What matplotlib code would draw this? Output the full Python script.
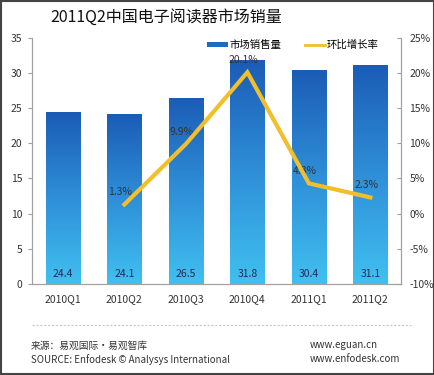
import numpy as np
import matplotlib.pyplot as plt
from matplotlib.colors import LinearSegmentedColormap
from matplotlib.lines import Line2D
from matplotlib.patches import Patch

plt.rcParams['font.family'] = ['Noto Sans CJK SC', 'DejaVu Sans']

quarters = ['2010Q1', '2010Q2', '2010Q3', '2010Q4', '2011Q1', '2011Q2']
sales = [24.4, 24.1, 26.5, 31.8, 30.4, 31.1]
growth_x = ['2010Q2', '2010Q3', '2010Q4', '2011Q1', '2011Q2']
growth = [1.3, 9.9, 20.1, 4.3, 2.3]

axis_gray = '#a0a0a0'
text_col = '#333333'
line_col = '#f2bf2a'
grad = LinearSegmentedColormap.from_list('bar', ['#40c0f0', '#2f8fd8', '#1b5cb6'])

fig = plt.figure(figsize=(4.35, 3.75), dpi=100)
ax = fig.add_axes([0.074, 0.243, 0.848, 0.656])
ax2 = ax.twinx()

x = np.arange(len(quarters))
bars = ax.bar(x, sales, width=0.56, color='none', edgecolor='none')
# 渐变填充
for b in bars:
    bx, by = b.get_x(), b.get_y()
    w, h = b.get_width(), b.get_height()
    img = ax.imshow(np.linspace(0, 1, 256).reshape(-1, 1), cmap=grad, origin='lower',
                    extent=[bx, bx + w, by, by + h], aspect='auto', zorder=2)
    img.set_clip_path(b)
ax.set_xlim(-0.5, 5.5)
ax.set_ylim(0, 35)

for xi, v in zip(x, sales):
    ax.text(xi, 1.4, f'{v}', ha='center', va='center', fontsize=7.5, color='#1c2e55', zorder=3)

gx = [quarters.index(q) for q in growth_x]
ax2.plot(gx, growth, color=line_col, lw=3, solid_joinstyle='miter', zorder=5)
ax2.set_ylim(-10, 25)
for xi, v in zip(gx, growth):
    ax2.annotate(f'{v}%', (xi, v), xytext=(-3, 9), textcoords='offset points',
                 ha='center', va='center', fontsize=7.5, color=text_col)

ax.set_yticks(range(0, 36, 5))
ax2.set_yticks(range(-10, 26, 5))
ax2.set_yticklabels([f'{t}%' for t in range(-10, 26, 5)])
ax.set_xticks(x)
ax.set_xticklabels(quarters)

for a in (ax, ax2):
    for s in a.spines.values():
        s.set_color(axis_gray)
    a.spines['top'].set_visible(False)
    a.tick_params(labelsize=7.5, colors=text_col, length=3, width=0.8)
    a.tick_params(axis='y', color=axis_gray)
ax.tick_params(axis='x', length=0, pad=7)
ax2.tick_params(axis='y', direction='in', pad=6)
ax.tick_params(axis='y', pad=4)

handles = [Patch(facecolor='#1e6cc2', edgecolor='none'),
           Line2D([0], [0], color=line_col, lw=2)]
leg = ax.legend(handles, ['市场销售量', '环比增长率'], loc='upper right', ncol=2,
                bbox_to_anchor=(0.965, 1.03), frameon=False, fontsize=7.5,
                handlelength=2.0, handleheight=0.5, columnspacing=2.2, handletextpad=0.15)

fig.text(0.115, 0.955, '2011Q2中国电子阅读器市场销量', fontsize=11.5, color='#111111', va='center')

fig.add_artist(Line2D([0.074, 0.945], [0.133, 0.133], color='#c8c8c8', lw=0.8, ls=(0, (2, 1.5))))
fig.text(0.071, 0.079, '来源：易观国际·易观智库', fontsize=7, color=text_col, va='center')
fig.text(0.071, 0.042, 'SOURCE: Enfodesk © Analysys International', fontsize=7, color=text_col, va='center')
fig.text(0.713, 0.079, 'www.eguan.cn', fontsize=7, color=text_col, va='center')
fig.text(0.713, 0.042, 'www.enfodesk.com', fontsize=7, color=text_col, va='center')

fig.add_artist(plt.Rectangle((0.002, 0.002), 0.996, 0.996, fill=False, edgecolor='#444444', lw=1.5,
                             transform=fig.transFigure))

fig.savefig('out.png', dpi=100)
